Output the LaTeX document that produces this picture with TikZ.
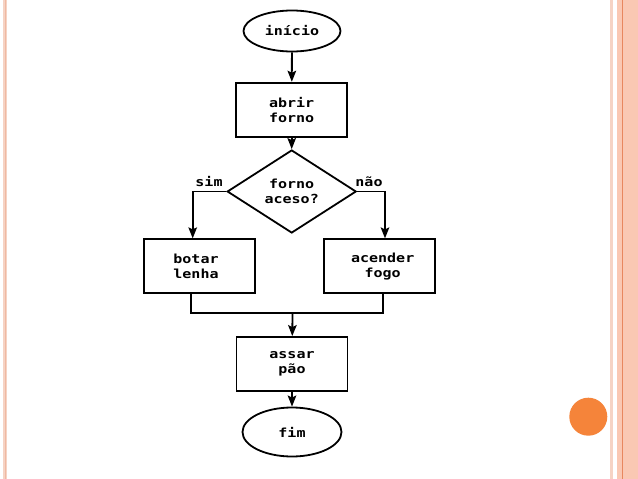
\documentclass[tikz,border=0pt]{standalone}
\usepackage{fontspec}
\newfontfamily\flowfont{DejaVu Sans Mono Bold}[FakeStretch=1.2]
\usetikzlibrary{shapes.geometric,arrows.meta}
\definecolor{bandpale}{HTML}{F6D3C4}
\definecolor{bandline}{HTML}{EFB9A2}
\definecolor{bandright}{HTML}{FAC8B3}
\definecolor{banddark}{HTML}{E8875E}
\definecolor{dotorange}{HTML}{F5843A}
\tikzset{
  flow/.style={draw=black, line width=1.8pt, fill=white, font=\flowfont\fontsize{12.5}{15}\selectfont, align=center, inner sep=0pt},
  procbox/.style={flow, rectangle, minimum width=111pt, minimum height=54pt},
  termbox/.style={flow, ellipse},
  decbox/.style={flow, diamond, minimum width=129pt, minimum height=83pt},
  conn/.style={line width=1.8pt},
  arr/.style={conn, -{Stealth[length=11pt,width=8.5pt,inset=2pt]}},
  lbl/.style={font=\flowfont\fontsize{12.5}{15}\selectfont, inner sep=0pt}
}
\begin{document}
\begin{tikzpicture}[x=1pt,y=-1pt]
\useasboundingbox (0,0) rectangle (638,479);
\fill[white] (0,0) rectangle (638,479);
% slide decoration
\fill[bandpale] (3.3,0) rectangle (6.7,479);
\draw[bandline, line width=1pt] (5,0) -- (5,479);
\fill[bandpale] (610,0) rectangle (612.8,479);
\fill[bandright] (616.7,0) rectangle (638,479);
\fill[banddark] (621.7,0) rectangle (622.8,479);
\fill[dotorange] (588.3,416.7) circle (19);
% flowchart
\node[termbox, minimum width=97pt, minimum height=41pt] (start) at (292,31) {início};
\node[procbox] (abrir) at (291.7,109.7) {abrir\\forno};
\node[decbox] (dec) at (291.7,191.5) {forno\\aceso?};
\node[procbox] (botar) at (199.5,266.3) {\hspace*{-7pt}botar\\\hspace*{-7pt}lenha};
\node[procbox] (acender) at (379.7,266.3) {acender\hspace*{-6pt}\\fogo\hspace*{-6pt}};
\node[procbox] (assar) at (292,364) {assar\\pão};
\node[termbox, minimum width=99pt, minimum height=49pt] (fim) at (292,432) {fim};
\coordinate (sL) at (192.7,0);
\coordinate (sR) at (385,0);
\coordinate (bL) at (190.7,0);
\coordinate (bR) at (383.3,0);
\coordinate (j) at (292.5,312.7);
\draw[arr] (start) -- (abrir);
\draw[arr] (abrir) -- (dec);
\draw[arr] (dec.west) -| (sL |- botar.north);
\draw[arr] (dec.east) -| (sR |- acender.north);
\draw[conn] (bL |- botar.south) -- (bL |- j) -- (bR |- j) -- (bR |- acender.south);
\draw[arr] (j) -- (assar);
\draw[arr] (assar) -- (fim);
\node[lbl] (sim) at (209,182) {sim};
\node[lbl] (nao) at (369,182) {não};
\end{tikzpicture}
\end{document}
